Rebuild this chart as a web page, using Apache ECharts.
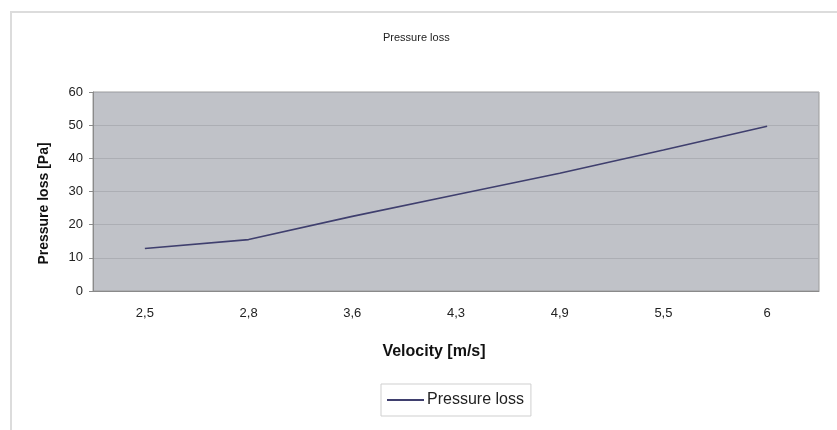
<!DOCTYPE html>
<html>
<head>
<meta charset="utf-8">
<script src="https://cdn.jsdelivr.net/npm/echarts@6/dist/echarts.min.js"></script>
<style>
html,body{margin:0;padding:0;background:#fff;}
#chart{width:837px;height:430px;}
</style>
</head>
<body>
<div id="chart"></div>
<script>
const categories = ['2,5', '2,8', '3,6', '4,3', '4,9', '5,5', '6'];
const pressureLoss = [12.8, 15.5, 22.5, 29, 35.5, 42.5, 49.7];
const seriesName = 'Pressure loss';

const chart = echarts.init(document.getElementById('chart'));
const font = 'Liberation Sans, Arial, sans-serif';
chart.setOption({
  backgroundColor: '#ffffff',
  animation: false,
  graphic: [{
    type: 'rect',
    shape: { x: 11, y: 12, width: 840, height: 430 },
    style: { fill: 'none', stroke: '#dcdcdc', lineWidth: 2 },
    silent: true
  }],
  title: {
    text: 'Pressure loss',
    left: 378, top: 27,
    textStyle: { fontFamily: font, fontSize: 11, fontWeight: 'normal', color: '#222' }
  },
  legend: {
    data: [seriesName],
    left: 381, top: 384,
    padding: [8, 7, 8, 6],
    itemGap: 0,
    itemWidth: 37, itemHeight: 2,
    borderColor: '#cfcfcf', borderWidth: 1,
    icon: 'rect',
    textStyle: { fontFamily: font, fontSize: 16, color: '#222', padding: [0, 0, 0, -2] }
  },
  grid: {
    left: 93, right: 18, top: 92, bottom: 139,
    show: true, backgroundColor: '#c0c2c8',
    borderColor: '#9c9c9c', borderWidth: 1
  },
  xAxis: {
    type: 'category',
    data: categories,
    boundaryGap: true,
    name: 'Velocity [m/s]',
    nameLocation: 'middle',
    nameGap: 53,
    nameTextStyle: { fontFamily: font, fontSize: 16, fontWeight: 'bold', color: '#111', padding: [0, 44, 0, 0] },
    axisLine: { lineStyle: { color: '#8a8a8a' } },
    axisTick: { inside: true, length: 3, lineStyle: { color: '#9a9a9a' } },
    axisLabel: { fontFamily: font, fontSize: 13, color: '#222', margin: 16 }
  },
  yAxis: {
    type: 'value',
    min: 0, max: 60, interval: 10,
    name: 'Pressure loss [Pa]',
    nameLocation: 'middle',
    nameGap: 42,
    nameRotate: 90,
    nameTextStyle: { fontFamily: font, fontSize: 14, fontWeight: 'bold', color: '#111', padding: [0, 24, 0, 0] },
    axisLine: { show: true, lineStyle: { color: '#8a8a8a' } },
    axisTick: { show: true, length: 4, lineStyle: { color: '#8a8a8a' } },
    axisLabel: { fontFamily: font, fontSize: 13, color: '#222', margin: 10 },
    splitLine: { lineStyle: { color: '#acaeb4', width: 1 } }
  },
  series: [{
    name: seriesName,
    type: 'line',
    data: pressureLoss,
    symbol: 'none',
    lineStyle: { color: '#3f3f6e', width: 1.6 },
    itemStyle: { color: '#3f3f6e' }
  }]
});
</script>
</body>
</html>
